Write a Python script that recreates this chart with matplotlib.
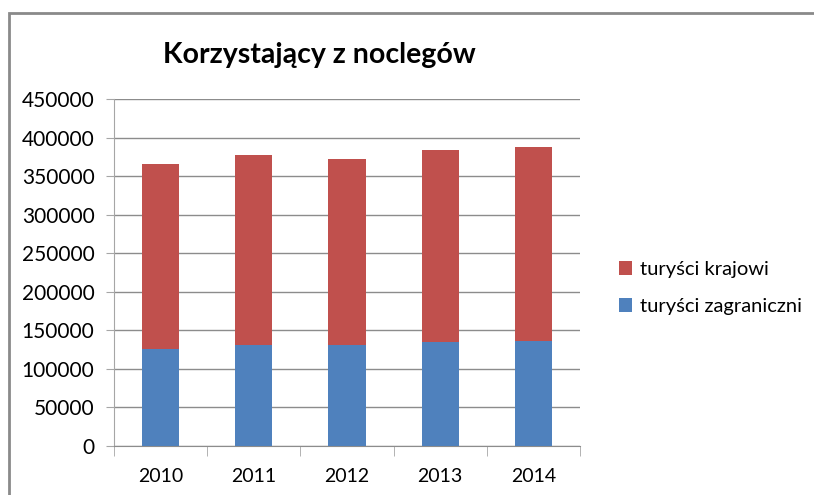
import numpy as np
import matplotlib.pyplot as plt
from matplotlib.patches import Rectangle

plt.rcParams['font.family'] = ['Lato', 'DejaVu Sans']

# Dane
lata = ['2010', '2011', '2012', '2013', '2014']
zagraniczni = [125400, 131000, 131000, 135200, 136500]
krajowi = [240300, 246000, 241100, 248600, 251600]

kolor_kraj = '#C0504D'
kolor_zagr = '#4F81BD'

fig = plt.figure(figsize=(8.14, 4.95), dpi=100)
ax = fig.add_axes([0.140, 0.099, 0.5725, 0.701])

x = np.arange(len(lata))
b1 = ax.bar(x, zagraniczni, width=0.4, color=kolor_zagr, zorder=3)
b2 = ax.bar(x, krajowi, width=0.4, bottom=zagraniczni, color=kolor_kraj, zorder=3)

ax.set_xlim(-0.5, len(lata) - 0.5)
ax.set_ylim(0, 450000)
ax.set_yticks(np.arange(0, 450001, 50000))
ax.yaxis.grid(True, color='#8c8c8c', linewidth=1, zorder=0)
ax.tick_params(axis='y', labelsize=15, length=6, color='#a6a6a6', pad=8)

# X-akse: ticks mellom kategoriene
ax.set_xticks(x)
ax.set_xticklabels(lata, fontsize=14)
ax.set_xticks(np.arange(-0.5, len(lata)), minor=True)
ax.tick_params(axis='x', which='major', length=0, pad=16)
ax.tick_params(axis='x', which='minor', length=7, color='#a6a6a6')

for s in ['top', 'right']:
    ax.spines[s].set_visible(False)
ax.spines['left'].set_color('#a6a6a6')
ax.spines['bottom'].set_color('#8c8c8c')

fig.text(0.392, 0.889, 'Korzystający z noclegów', ha='center', va='center',
         fontsize=20.5, fontweight='bold')

fig.legend([b2, b1], ['turyści krajowi', 'turyści zagraniczni'],
           loc='center left', bbox_to_anchor=(0.738, 0.418), frameon=False,
           fontsize=14.5, handlelength=0.65, handleheight=0.65, handletextpad=0.4,
           labelspacing=1.0)

# Ramme rundt diagrammet
fig.patches.append(Rectangle((0.0105, -0.05), 1.2, 1.0237, transform=fig.transFigure,
                             fill=False, edgecolor='#8a8a8a', linewidth=2))

fig.savefig('out.png', dpi=100)
